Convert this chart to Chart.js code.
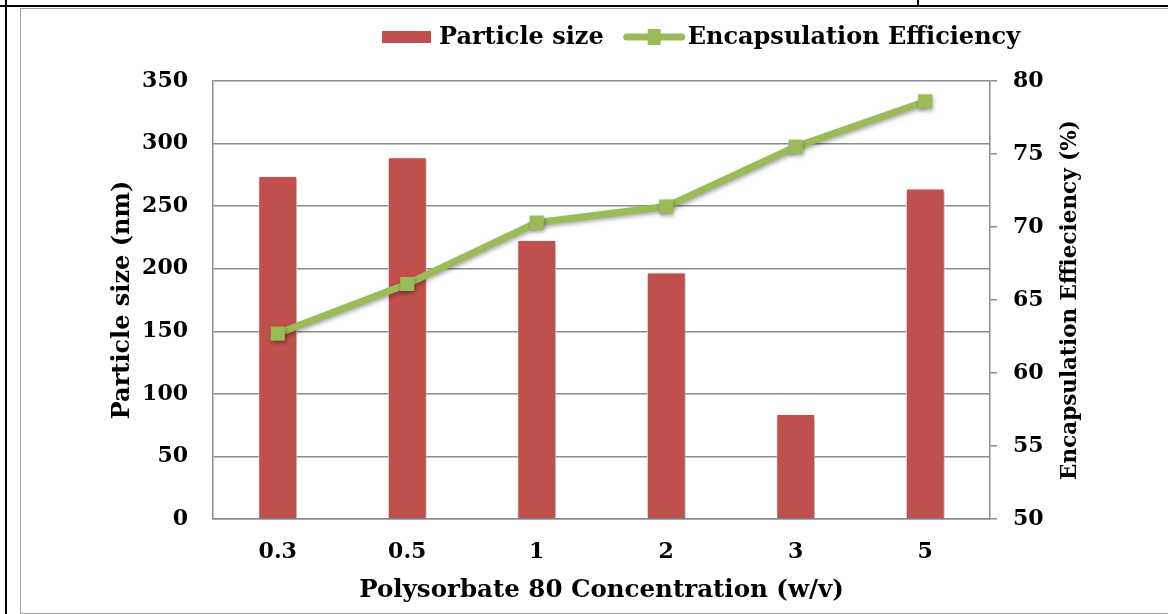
<!DOCTYPE html>
<html>
<head>
<meta charset="utf-8">
<script src="https://cdn.jsdelivr.net/npm/chart.js@4"></script>
<style>
  html, body { margin: 0; padding: 0; background: #fff; }
  body { width: 1168px; height: 614px; position: relative; overflow: hidden; }
  .hline { position: absolute; left: 0; top: 5px; width: 1168px; height: 2px; background: #000; }
  .vline { position: absolute; left: 5px; top: 0; width: 2px; height: 614px; background: #000; }
  .vtick { position: absolute; left: 917px; top: 0; width: 2px; height: 6px; background: #000; }
  #frame { position: absolute; left: 20px; top: 8px; width: 1200px; height: 604px; border: 1px solid #a0a0a0; }
  #wrap { position: absolute; left: 21px; top: 9px; width: 1147px; height: 605px; }
</style>
</head>
<body>
<div class="hline"></div>
<div class="vline"></div>
<div class="vtick"></div>
<div id="frame"></div>
<div id="wrap"><canvas id="chart" width="1147" height="605"></canvas></div>
<script>
// data
const concentrations = ['0.3', '0.5', '1', '2', '3', '5'];
const particleSize = [274, 289, 223, 197, 84, 264];
const encapsulation = [62.7, 66.1, 70.3, 71.4, 75.5, 78.6];
const rightTitle = 'Encapsulation Effieciency (%)';

const FONT = "'DejaVu Serif', serif";
const RED = '#C0504D';
const GREEN = '#9BBB59';
const GRID = '#8c8c8c';

// soft shadow under bars and line, like the office chart
const shadowPlugin = {
  id: 'shadow',
  beforeDatasetDraw(chart) {
    const c = chart.ctx;
    c.save();
    c.shadowColor = 'rgba(0,0,0,0.35)';
    c.shadowBlur = 4;
    c.shadowOffsetX = 1;
    c.shadowOffsetY = 2;
  },
  afterDatasetDraw(chart) {
    chart.ctx.restore();
  }
};

// legend drawn by hand: red box, and green line with square marker
// plus the right axis title, which reads bottom to top
const legendPlugin = {
  id: 'customLegend',
  afterDraw(chart) {
    const c = chart.ctx;
    const y = 28;
    let x = 361;
    c.save();
    c.font = 'bold 24px ' + FONT;
    c.textBaseline = 'middle';
    c.fillStyle = RED;
    c.fillRect(x, y - 6, 49, 12);
    x += 57;
    c.fillStyle = '#000';
    c.fillText(chart.data.datasets[0].label, x, y + 1);
    x += c.measureText(chart.data.datasets[0].label).width + 20;
    c.strokeStyle = GREEN;
    c.lineWidth = 7;
    c.lineCap = 'round';
    c.beginPath();
    c.moveTo(x + 3, y);
    c.lineTo(x + 58, y);
    c.stroke();
    c.fillStyle = GREEN;
    c.fillRect(x + 24, y - 8, 13, 16);
    x += 64;
    c.fillStyle = '#000';
    c.fillText(chart.data.datasets[1].label, x, y + 1);
    c.restore();

    const a = chart.chartArea;
    c.save();
    c.font = 'bold 21.5px ' + FONT;
    c.fillStyle = '#000';
    c.textAlign = 'center';
    c.textBaseline = 'middle';
    c.translate(1049, (a.top + a.bottom) / 2);
    c.rotate(-Math.PI / 2);
    c.fillText(rightTitle, 0, 0);
    c.restore();
  }
};

const ctx = document.getElementById('chart').getContext('2d');
const chart = new Chart(ctx, {
  type: 'bar',
  data: {
    labels: concentrations,
    datasets: [{
      type: 'bar',
      label: 'Particle size',
      data: particleSize,
      backgroundColor: RED,
      borderColor: '#ffffff',
      borderWidth: 1,
      barPercentage: 0.3,
      categoryPercentage: 1,
      yAxisID: 'y',
      order: 2
    }, {
      type: 'line',
      label: 'Encapsulation Efficiency',
      data: encapsulation,
      borderColor: GREEN,
      backgroundColor: GREEN,
      borderWidth: 7,
      pointStyle: 'rect',
      pointRadius: 10,
      pointBorderWidth: 0,
      pointBackgroundColor: GREEN,
      fill: false,
      tension: 0,
      yAxisID: 'y1',
      order: 1
    }]
  },
  options: {
    responsive: false,
    animation: false,
    devicePixelRatio: 1,
    layout: { padding: { left: 75, right: 81, top: 72, bottom: 5 } },
    plugins: {
      legend: { display: false },
      tooltip: { enabled: false }
    },
    scales: {
      x: {
        grid: { drawOnChartArea: false, drawTicks: false },
        border: { display: true, color: GRID, width: 1.5 },
        ticks: { color: '#000', padding: 20, font: { family: FONT, size: 22, weight: 'bold' } },
        title: {
          display: true,
          text: 'Polysorbate 80 Concentration (w/v)',
          color: '#000',
          padding: { top: 0, bottom: 4 },
          font: { family: FONT, size: 24.5, weight: 'bold' }
        },
        afterFit(s) { s.height = 90; }
      },
      y: {
        position: 'left',
        min: 0,
        max: 350,
        ticks: { stepSize: 50, color: '#000', padding: 25, font: { family: FONT, size: 22, weight: 'bold' } },
        grid: { color: GRID, lineWidth: 1.5, drawTicks: false },
        border: { display: true, color: GRID, width: 1.5 },
        title: {
          display: true,
          text: 'Particle size (nm)',
          color: '#000',
          padding: { top: 12, bottom: 0 },
          font: { family: FONT, size: 24, weight: 'bold' }
        },
        afterFit(s) { s.width = 117; }
      },
      y1: {
        position: 'right',
        min: 50,
        max: 80,
        ticks: { stepSize: 5, color: '#000', padding: 16, font: { family: FONT, size: 22, weight: 'bold' } },
        grid: { drawOnChartArea: false, drawTicks: true, tickLength: 7, color: GRID, lineWidth: 1.5 },
        border: { display: true, color: GRID, width: 1.5 },
        title: { display: false },
        afterFit(s) { s.width = 97; }
      }
    }
  },
  plugins: [shadowPlugin, legendPlugin]
});
</script>
</body>
</html>
